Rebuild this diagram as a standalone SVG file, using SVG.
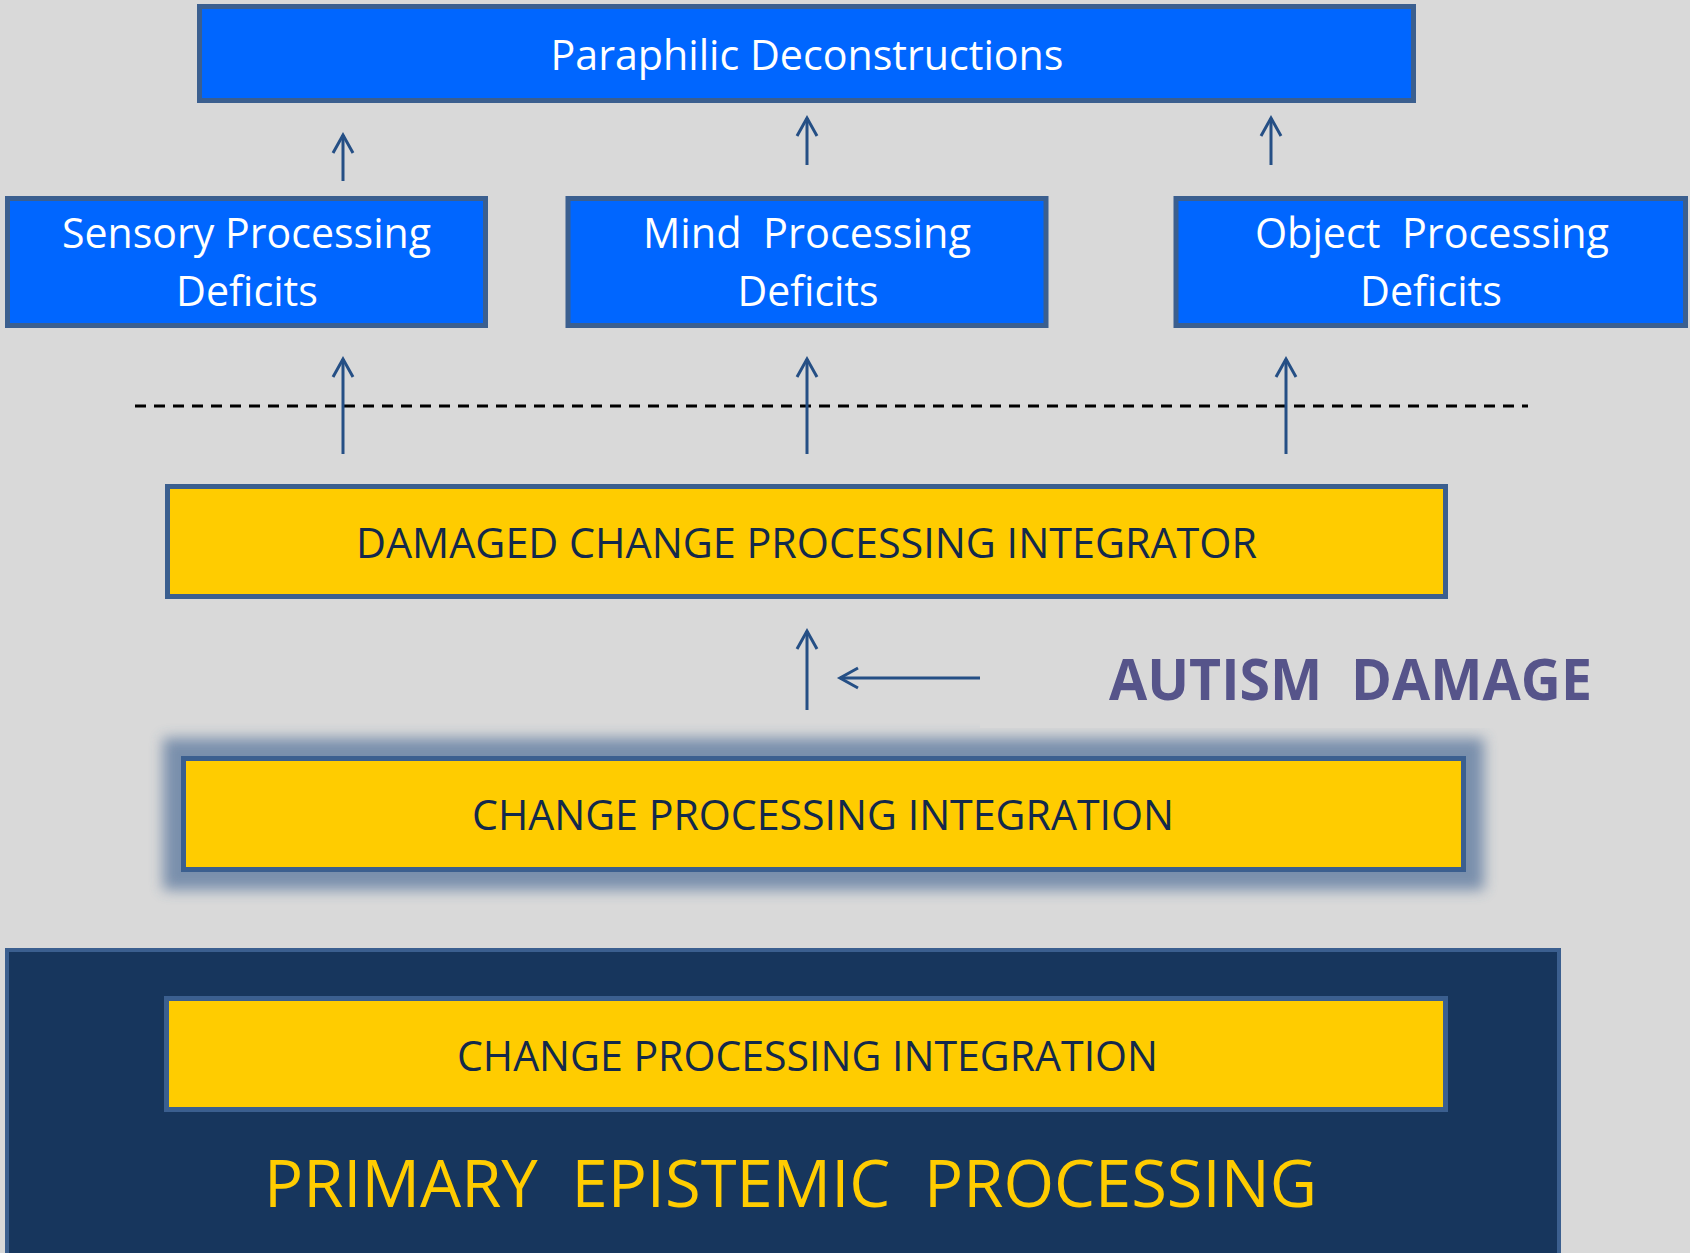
<svg xmlns="http://www.w3.org/2000/svg" width="1690" height="1253" viewBox="0 0 1690 1253">
<style>
.bg{fill:#d9d9d9}
.blue{fill:#0066ff;stroke:#3b5f8f;stroke-width:5}
.yel{fill:#ffcc00;stroke:#3b5f8f;stroke-width:5}
.dark{fill:#17365d;stroke:#3b5f8f;stroke-width:4}
.t{font-family:"Open Sans","Liberation Sans",sans-serif;text-anchor:middle;white-space:pre}
.w{fill:#ffffff;font-size:42px}
.d{fill:#13294b;font-size:42px}
.conn{stroke:#254f85;stroke-width:3;fill:none}
</style>
<defs>
<marker id="ah" viewBox="-2 -2 24 24" markerWidth="24" markerHeight="24" markerUnits="userSpaceOnUse" refX="18" refY="10" orient="auto" overflow="visible">
<path d="M0,0 L18,10 L0,20" fill="none" stroke="#254f85" stroke-width="3" stroke-linejoin="miter"/>
</marker>
<filter id="glow" x="-10%" y="-50%" width="120%" height="200%">
<feGaussianBlur stdDeviation="7"/>
</filter>
</defs>
<rect class="bg" x="0" y="0" width="1690" height="1253"/>

<g id="paraphilic">
<rect class="blue" x="199.5" y="6.5" width="1214" height="94"/>
<text class="t w" x="807" y="70" textLength="513" lengthAdjust="spacingAndGlyphs">Paraphilic Deconstructions</text>
</g>

<g id="sensory">
<rect class="blue" x="7.5" y="198.5" width="478" height="127"/>
<text class="t w" x="246.5" y="248" textLength="369" lengthAdjust="spacingAndGlyphs">Sensory Processing</text>
<text class="t w" x="247" y="306" textLength="142" lengthAdjust="spacingAndGlyphs">Deficits</text>
</g>

<g id="mind">
<rect class="blue" x="568" y="198.5" width="478" height="127"/>
<text class="t w" x="807" y="248" textLength="328" lengthAdjust="spacingAndGlyphs">Mind  Processing</text>
<text class="t w" x="808" y="306" textLength="141" lengthAdjust="spacingAndGlyphs">Deficits</text>
</g>

<g id="object">
<rect class="blue" x="1176" y="198.5" width="509.5" height="127"/>
<text class="t w" x="1432" y="248" textLength="354" lengthAdjust="spacingAndGlyphs">Object  Processing</text>
<text class="t w" x="1431" y="306" textLength="142" lengthAdjust="spacingAndGlyphs">Deficits</text>
</g>

<g id="separator">
<line x1="135" y1="406" x2="1528" y2="406" stroke="#000000" stroke-width="3" stroke-dasharray="11 8"/>
</g>

<g id="damaged">
<rect class="yel" x="167.5" y="486.5" width="1278" height="110"/>
<text class="t d" x="806.5" y="558" textLength="901" lengthAdjust="spacingAndGlyphs">DAMAGED CHANGE PROCESSING INTEGRATOR</text>
</g>

<g id="cpi-middle">
<rect x="163" y="738" width="1321" height="152" fill="#3b5f8f" opacity="0.6" filter="url(#glow)"/>
<rect class="yel" x="183.5" y="758.5" width="1280" height="111"/>
<text class="t d" x="823" y="830" textLength="702" lengthAdjust="spacingAndGlyphs">CHANGE PROCESSING INTEGRATION</text>
</g>

<g id="autism-damage">
<rect class="bg" x="980" y="600" width="640" height="128"/>
<text class="t" x="1350.5" y="700" font-size="57" font-weight="bold" fill="#56548a" textLength="483" lengthAdjust="spacingAndGlyphs">AUTISM  DAMAGE</text>
</g>

<g id="primary">
<rect class="dark" x="7" y="950" width="1552" height="310"/>
<g id="cpi-inner">
<rect class="yel" x="166.5" y="998.5" width="1279" height="111"/>
<text class="t d" x="807.5" y="1071" textLength="701" lengthAdjust="spacingAndGlyphs">CHANGE PROCESSING INTEGRATION</text>
</g>
<text class="t" x="790.5" y="1207" font-size="66" fill="#ffcc00" textLength="1053" lengthAdjust="spacingAndGlyphs">PRIMARY  EPISTEMIC  PROCESSING</text>
</g>

<g id="connectors" class="conn">
<line x1="343" y1="181" x2="343" y2="135" marker-end="url(#ah)"/>
<line x1="807" y1="165" x2="807" y2="118" marker-end="url(#ah)"/>
<line x1="1271" y1="165" x2="1271" y2="118" marker-end="url(#ah)"/>
<line x1="343" y1="454" x2="343" y2="359" marker-end="url(#ah)"/>
<line x1="807" y1="454" x2="807" y2="359" marker-end="url(#ah)"/>
<line x1="1286" y1="454" x2="1286" y2="359" marker-end="url(#ah)"/>
<line x1="807" y1="710" x2="807" y2="631" marker-end="url(#ah)"/>
<line x1="980" y1="678" x2="840" y2="678" marker-end="url(#ah)"/>
</g>
</svg>
